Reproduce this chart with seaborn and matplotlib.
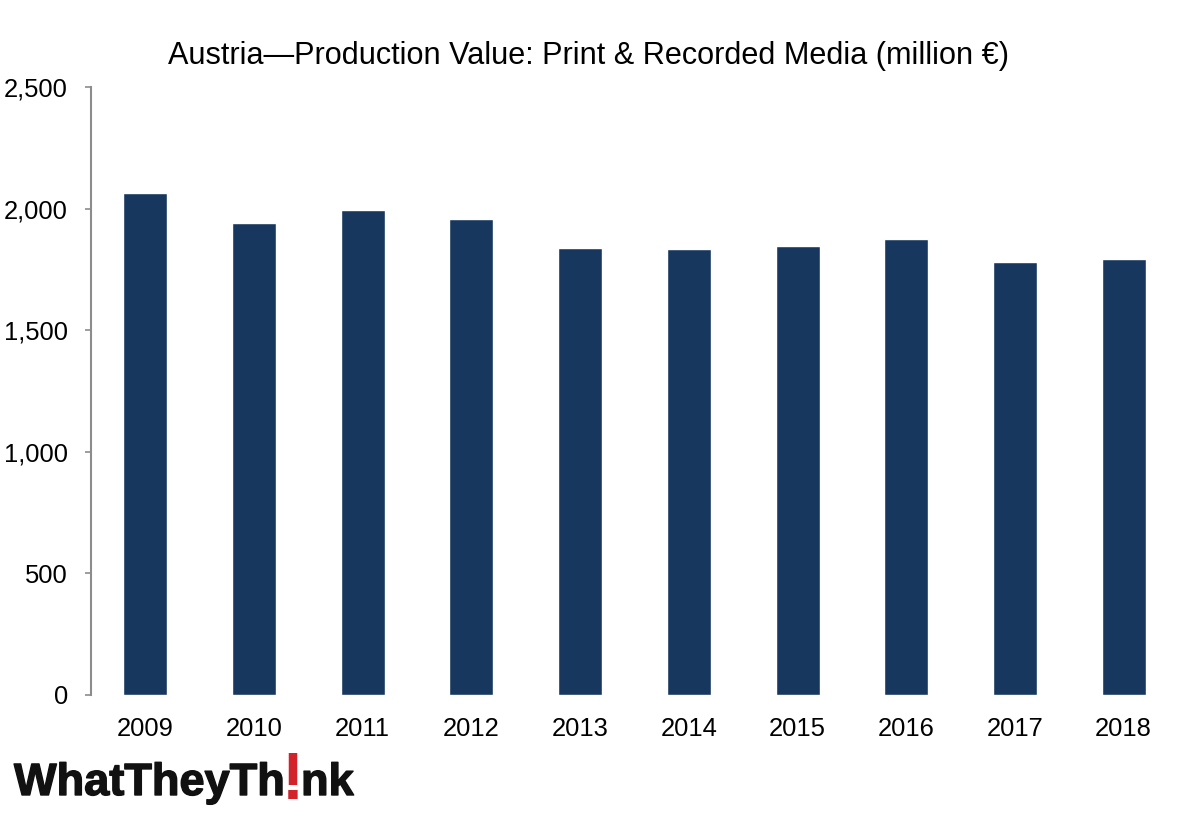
import matplotlib
matplotlib.use("Agg")
import matplotlib.pyplot as plt
import matplotlib.patheffects as pe
import pandas as pd
import seaborn as sns

years = ["2009", "2010", "2011", "2012", "2013", "2014", "2015", "2016", "2017", "2018"]
values = [2066, 1941, 1994, 1956, 1840, 1832, 1847, 1876, 1781, 1794]
y_ticks = [0, 500, 1000, 1500, 2000, 2500]
title = "Austria\u2014Production Value: Print & Recorded Media (million \u20ac)"

sns.set_theme(style="white")
plt.rcParams["font.family"] = ["Liberation Sans", "DejaVu Sans"]

df = pd.DataFrame({"year": years, "value": values})
fig = plt.figure(figsize=(12, 8.14), dpi=100)
ax = fig.add_axes([91 / 1200, 1 - 695 / 814, 1087 / 1200, 608 / 814])
sns.barplot(data=df, x="year", y="value", color="#17375E", saturation=1, width=0.405, ax=ax)
ax.set_xlim(-0.5, 9.5)
ax.set_ylim(0, 2500)
ax.set_yticks(y_ticks)
ax.set_yticklabels([f"{v:,}" for v in y_ticks], fontsize=18.4, color="black")
ax.set_xlabel("")
ax.set_ylabel("")
ax.tick_params(axis="x", length=0, pad=16, labelsize=18.4, labelcolor="black")
ax.tick_params(axis="y", left=True, length=4.5, width=1.2, color="#8C8C8C", pad=12)
for side in ["top", "right", "bottom"]:
    ax.spines[side].set_visible(False)
ax.spines["left"].set_color("#8C8C8C")
ax.spines["left"].set_linewidth(1.5)
fig.text(589 / 1200, 1 - 56 / 814, title, ha="center", va="center", fontsize=22.1, color="black")

# logo wordmark
stroke = [pe.withStroke(linewidth=1.0, foreground="#111111")]
logo_style = dict(ha="left", va="baseline", fontsize=32.5, fontweight="bold", color="#111111",
                  path_effects=stroke)
fig.text(14 / 1200, 1 - 795 / 814, "WhatTheyTh", **logo_style)
fig.text(282 / 1200, 1 - 799 / 814, "!", ha="left", va="baseline", fontsize=48,
         fontweight="bold", color="#D2232A")
fig.text(301 / 1200, 1 - 795 / 814, "nk", **logo_style)
fig.savefig("out.png", dpi=100, facecolor="white")
